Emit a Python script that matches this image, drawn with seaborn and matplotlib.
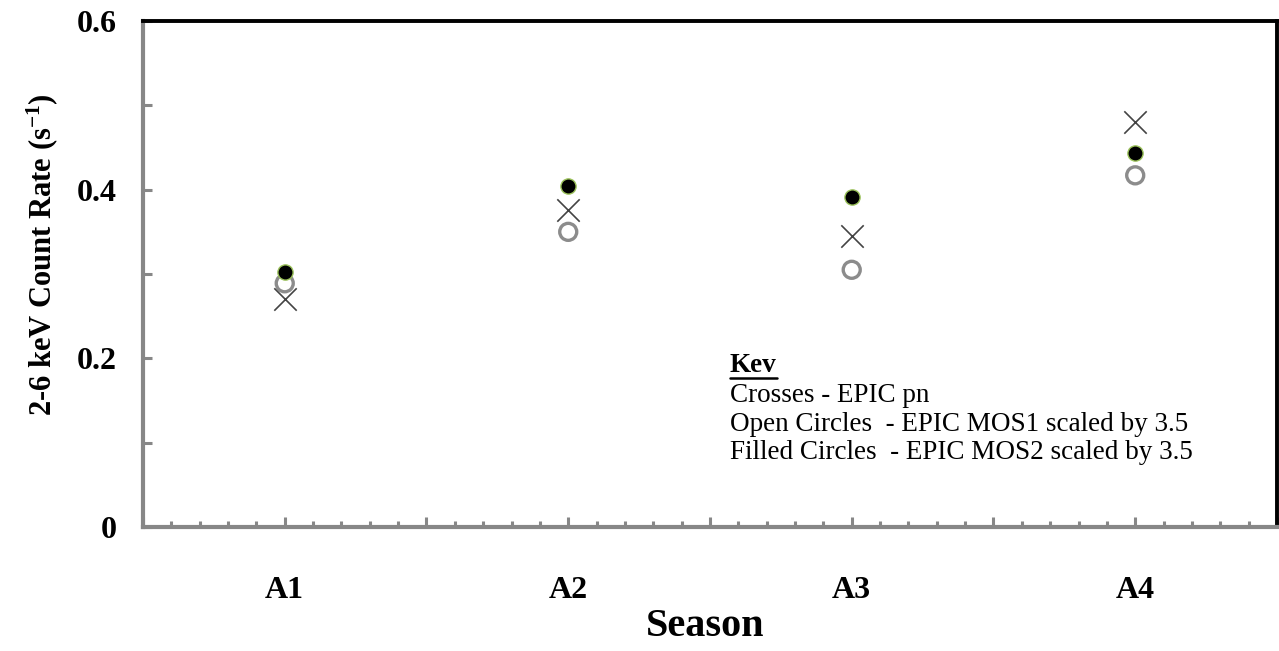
import numpy as np
import pandas as pd
import matplotlib
matplotlib.use("Agg")
import matplotlib.pyplot as plt
from matplotlib.ticker import MultipleLocator, FixedLocator, FixedFormatter
from matplotlib.lines import Line2D
import seaborn as sns

# Season categories and count rates (s^-1) for the three EPIC cameras
seasons = ["A1", "A2", "A3", "A4"]
pn_rate = [0.270, 0.376, 0.345, 0.480]      # crosses - EPIC pn
mos1_rate = [0.289, 0.350, 0.305, 0.417]    # open circles - MOS1 x 3.5
mos2_rate = [0.302, 0.404, 0.391, 0.4435]   # filled circles - MOS2 x 3.5

y_ticks = [0.0, 0.2, 0.4, 0.6]
y_tick_labels = ["0", "0.2", "0.4", "0.6"]

sns.set_style("white")
plt.rcParams["font.family"] = ["Liberation Serif", "DejaVu Serif"]
plt.rcParams["text.color"] = "black"
plt.rcParams["axes.labelcolor"] = "black"
plt.rcParams["xtick.labelcolor"] = "black"
plt.rcParams["ytick.labelcolor"] = "black"
plt.rcParams["mathtext.fontset"] = "custom"
plt.rcParams["mathtext.rm"] = "Liberation Serif:bold"
plt.rcParams["mathtext.it"] = "Liberation Serif:bold"
plt.rcParams["mathtext.bf"] = "Liberation Serif:bold"

pos = np.arange(1, len(seasons) + 1)
df = pd.DataFrame({
    "season": seasons,
    "pos": pos,
    "pn": pn_rate,
    "mos1": mos1_rate,
    "mos2": mos2_rate,
})

fig = plt.figure(figsize=(12.79, 6.51), dpi=100)
ax = fig.add_axes([0.1118, 0.1905, 0.8866, 0.7772])

sns.scatterplot(data=df, x="pos", y="mos1", ax=ax, marker="o", s=150,
                facecolor="none", edgecolor="#8c8c8c", linewidth=2.4, zorder=3)
sns.scatterplot(data=df, x="pos", y="pn", ax=ax, marker="x", s=260,
                color="#444444", linewidth=1.2, zorder=4)
sns.scatterplot(data=df, x="pos", y="mos2", ax=ax, marker="o", s=120,
                color="black", edgecolor="#9bc25a", linewidth=1.0, zorder=5)

ax.set_xlim(0.5, 4.5)
ax.set_ylim(0, 0.6)

# x axis: labelled seasons, taller ticks every half step, small ticks every tenth
major_x = np.arange(0.5, 4.51, 0.5)
ax.xaxis.set_major_locator(FixedLocator(major_x))
ax.xaxis.set_major_formatter(FixedFormatter(
    [seasons[int(v) - 1] if float(v).is_integer() else "" for v in major_x]))
ax.xaxis.set_minor_locator(MultipleLocator(0.1))

ax.yaxis.set_major_locator(FixedLocator(y_ticks))
ax.yaxis.set_major_formatter(FixedFormatter(y_tick_labels))
ax.yaxis.set_minor_locator(MultipleLocator(0.1))

gray = "#878787"
ax.tick_params(axis="x", which="major", direction="in", length=7, width=2.2,
               color=gray, pad=35, labelsize=23)
ax.tick_params(axis="x", which="minor", direction="in", length=4.5, width=2.2,
               color=gray)
ax.tick_params(axis="y", which="both", direction="in", length=6.5, width=2.2,
               color=gray, pad=19, labelsize=23)
ax.tick_params(bottom=True, left=True, which="both")
for lab in ax.get_xticklabels() + ax.get_yticklabels():
    lab.set_fontweight("bold")

for side in ["left", "bottom"]:
    ax.spines[side].set_color(gray)
    ax.spines[side].set_linewidth(3)
for side in ["top", "right"]:
    ax.spines[side].set_color("black")
    ax.spines[side].set_linewidth(2.8)
    ax.spines[side].set_visible(True)

ax.set_xlabel("Season", fontsize=29, fontweight="bold")
ax.xaxis.set_label_coords(0.496, -0.16)
ax.set_ylabel(r"2-6 keV Count Rate (s$^{-1}$)", fontsize=22, fontweight="bold")
ax.yaxis.set_label_coords(-0.0735, 0.5375)

# key text block
kx = (730 - 143) / 1134
def ky(py):
    return (527 - py) / 506

key_lines = [
    "Crosses - EPIC pn",
    "Open Circles  - EPIC MOS1 scaled by 3.5",
    "Filled Circles  - EPIC MOS2 scaled by 3.5",
]
kev = ax.text(kx, ky(366), "Kev", transform=ax.transAxes, fontsize=19.5,
              fontweight="bold", va="center", ha="left")
for line, py in zip(key_lines, [396, 424.5, 453]):
    ax.text(kx, ky(py), line, transform=ax.transAxes, fontsize=19.5,
            va="center", ha="left")

fig.canvas.draw()
bb = kev.get_window_extent().transformed(ax.transAxes.inverted())
ax.add_line(Line2D([bb.x0, bb.x1], [ky(378), ky(378)], transform=ax.transAxes,
                   color="black", linewidth=1.8, clip_on=False))

fig.savefig("out.png", dpi=100)
